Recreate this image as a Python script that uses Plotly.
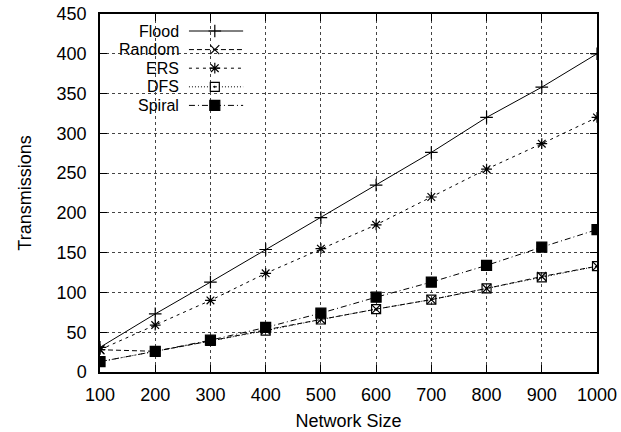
import plotly.graph_objects as go

network_size = [100, 200, 300, 400, 500, 600, 700, 800, 900, 1000]
flood = [31, 73, 113, 154, 194, 235, 276, 320, 358, 400]
random_walk = [28, 26, 39, 53, 66, 79, 91, 105, 120, 133]
ers = [28, 59, 90, 124, 155, 185, 220, 255, 287, 320]
dfs = [13, 26, 39, 52, 66, 79, 91, 105, 119, 133]
spiral = [13, 26, 40, 56, 74, 94, 113, 134, 157, 179]

series_names = ["Flood", "Random", "ERS", "DFS", "Spiral"]
series_values = [flood, random_walk, ers, dfs, spiral]
dashes = ["solid", "5px,3px", "3px,4px", "1px,2px", "6px,3px,1px,3px"]
symbols = ["cross-thin-open", "x-thin-open", "asterisk-open", "square-open-dot", "square"]
sizes = [9, 9, 9, 9, 10]

FONT = "Liberation Sans, Arial, sans-serif"
FS = 18

fig = go.Figure()
for name, vals, dash, sym, sz in zip(series_names, series_values, dashes, symbols, sizes):
    fig.add_trace(go.Scatter(
        x=network_size, y=vals, name=name, mode="lines+markers",
        line=dict(color="black", width=1, dash=dash),
        marker=dict(symbol=sym, size=sz, color="black",
                    line=dict(color="black", width=1.2)),
        showlegend=False,
    ))

# gnuplot-style key (text right-aligned, sample on the right), drawn on an overlay axis
key_y = [0.9525, 0.9006, 0.8486, 0.7966, 0.7447]
for name, dash, sym, sz, ky in zip(series_names, dashes, symbols, sizes, key_y):
    fig.add_trace(go.Scatter(
        x=[0.179, 0.288], y=[ky, ky], mode="lines", xaxis="x2", yaxis="y2",
        line=dict(color="black", width=1, dash=dash), showlegend=False, hoverinfo="skip"))
    fig.add_trace(go.Scatter(
        x=[0.231], y=[ky], mode="markers", xaxis="x2", yaxis="y2",
        marker=dict(symbol=sym, size=sz, color="black", line=dict(color="black", width=1.2)),
        showlegend=False, hoverinfo="skip"))
    fig.add_annotation(x=0.16, y=ky, xref="paper", yref="paper", text=name,
                       showarrow=False, xanchor="right", yanchor="middle",
                       borderpad=0,
                       font=dict(family=FONT, size=16, color="black"))

fig.add_shape(type="rect", xref="paper", yref="paper", x0=0, x1=0.306, y0=0.718, y1=1,
              fillcolor="white", line=dict(width=0), layer="between")

axis_common = dict(
    showline=True, linecolor="black", linewidth=1.5, mirror="allticks",
    ticks="inside", ticklen=7, tickcolor="black", tickwidth=1,
    showgrid=True, gridcolor="#444444", griddash="dot", gridwidth=1,
    zeroline=False, automargin=False,
    tickfont=dict(family=FONT, size=FS, color="black"),
)

fig.update_layout(
    width=621, height=432,
    margin=dict(l=100, r=24, t=14, b=60),
    paper_bgcolor="white", plot_bgcolor="white",
    font=dict(family=FONT, size=FS, color="black"),
    xaxis=dict(range=[100, 1000], tickvals=network_size, ticklabelstandoff=6,
               title=dict(text="Network Size", font=dict(family=FONT, size=FS), standoff=10),
               **axis_common),
    yaxis=dict(range=[0, 450], dtick=50, ticklabelstandoff=8,
               title=dict(text="Transmissions", font=dict(family=FONT, size=FS), standoff=20),
               **axis_common),
    xaxis2=dict(range=[0, 1], overlaying="x", visible=False, fixedrange=True),
    yaxis2=dict(range=[0, 1], overlaying="y", visible=False, fixedrange=True),
)

fig.write_html("out.html")
